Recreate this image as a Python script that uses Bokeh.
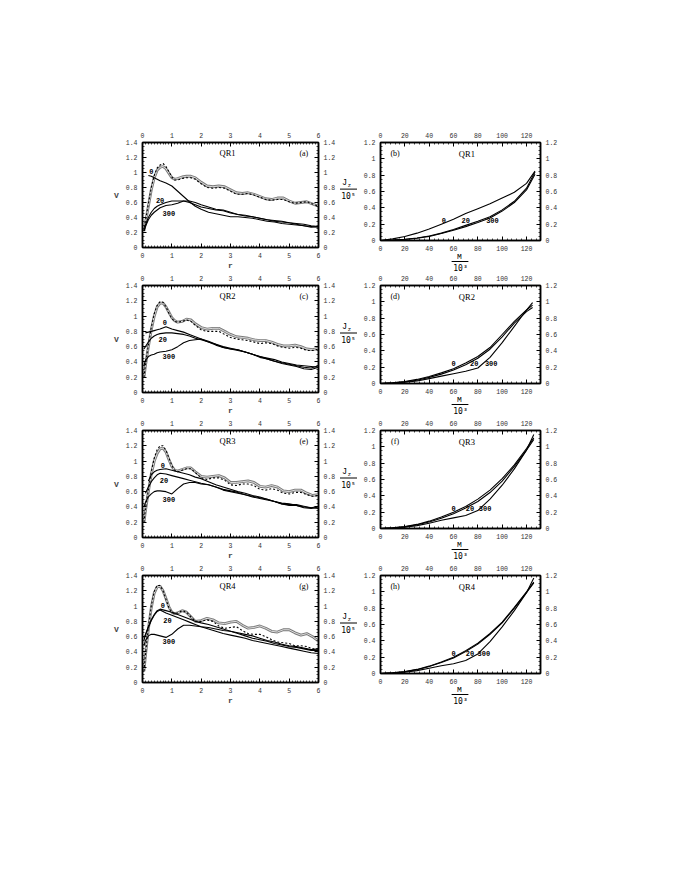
from bokeh.plotting import figure
from bokeh.layouts import column, row
from bokeh.models import LinearAxis, Range1d, FixedTicker, Label
from bokeh.embed import file_html
from bokeh.resources import INLINE

nan = float("nan")

# ---------------- data ----------------
r_ticks = [0, 1, 2, 3, 4, 5, 6]
r_tick_labels = ["0", "1", "2", "3", "4", "5", "6"]
v_ticks = [0, 0.2, 0.4, 0.6, 0.8, 1, 1.2, 1.4]
v_tick_labels = ["0", "0.2", "0.4", "0.6", "0.8", "1", "1.2", "1.4"]
m_ticks = [0, 20, 40, 60, 80, 100, 120]
m_tick_labels = ["0", "20", "40", "60", "80", "100", "120"]
j_ticks = [0, 0.2, 0.4, 0.6, 0.8, 1, 1.2]
j_tick_labels = ["0", "0.2", "0.4", "0.6", "0.8", "1", "1.2"]

panel_names = ["QR1", "QR2", "QR3", "QR4"]
left_tags = ["(a)", "(c)", "(e)", "(g)"]
right_tags = ["(b)", "(d)", "(f)", "(h)"]
series_names = ["0", "20", "300"]

# J_z / 10^5 profiles (grey and dashed), right axis of left panels
r_j = [0.05, 0.1, 0.2, 0.3, 0.4, 0.5, 0.6, 0.7, 0.8, 0.9, 1.0, 1.1, 1.2, 1.35, 1.5,
       1.65, 1.8, 2.0, 2.2, 2.4, 2.6, 2.8, 3.0, 3.2, 3.4, 3.6, 3.8, 4.0, 4.2, 4.4,
       4.6, 4.8, 5.0, 5.2, 5.4, 5.6, 5.8, 6.0]
jg_qr1 = [0.22, 0.33, 0.55, 0.77, 0.93, 1.03, 1.07, 1.08, 1.05, 0.99, 0.93, 0.91, 0.92,
          0.94, 0.95, 0.95, 0.93, 0.87, 0.82, 0.81, 0.82, 0.81, 0.77, 0.73, 0.72, 0.73,
          0.71, 0.68, 0.65, 0.64, 0.66, 0.66, 0.62, 0.59, 0.6, 0.61, 0.58, 0.55]
jd_qr1 = [0.22, 0.35, 0.58, 0.8, 0.96, 1.06, 1.1, 1.12, 1.08, 1.01, 0.94, 0.9, 0.9,
          0.92, 0.93, 0.93, 0.91, 0.85, 0.8, 0.79, 0.8, 0.79, 0.75, 0.71, 0.71, 0.72,
          0.7, 0.67, 0.64, 0.63, 0.64, 0.64, 0.61, 0.59, 0.6, 0.61, 0.58, 0.55]
jg_qr2 = [0.2, 0.35, 0.6, 0.82, 1.0, 1.12, 1.17, 1.17, 1.12, 1.05, 0.98, 0.94, 0.92,
          0.93, 0.96, 0.95, 0.9, 0.85, 0.83, 0.84, 0.84, 0.8, 0.76, 0.73, 0.72, 0.71,
          0.69, 0.68, 0.68, 0.66, 0.63, 0.61, 0.61, 0.62, 0.6, 0.57, 0.56, 0.58]
jd_qr2 = [0.2, 0.36, 0.62, 0.85, 1.03, 1.14, 1.19, 1.18, 1.12, 1.04, 0.97, 0.93, 0.92,
          0.93, 0.95, 0.93, 0.88, 0.82, 0.8, 0.8, 0.8, 0.76, 0.72, 0.7, 0.69, 0.68,
          0.66, 0.64, 0.65, 0.64, 0.61, 0.59, 0.58, 0.59, 0.58, 0.55, 0.55, 0.57]
jg_qr3 = [0.2, 0.35, 0.6, 0.83, 1.0, 1.1, 1.16, 1.17, 1.12, 1.02, 0.93, 0.88, 0.87,
          0.89, 0.91, 0.91, 0.86, 0.8, 0.79, 0.8, 0.81, 0.78, 0.72, 0.72, 0.73, 0.74,
          0.72, 0.67, 0.66, 0.68, 0.66, 0.61, 0.6, 0.62, 0.62, 0.58, 0.55, 0.56]
jd_qr3 = [0.2, 0.37, 0.62, 0.86, 1.04, 1.15, 1.2, 1.2, 1.14, 1.04, 0.94, 0.88, 0.86,
          0.88, 0.9, 0.9, 0.85, 0.78, 0.76, 0.78, 0.78, 0.75, 0.69, 0.68, 0.7, 0.7,
          0.68, 0.63, 0.62, 0.64, 0.62, 0.58, 0.57, 0.59, 0.59, 0.56, 0.54, 0.55]
jg_qr4 = [0.15, 0.35, 0.7, 0.98, 1.17, 1.25, 1.26, 1.2, 1.1, 0.99, 0.92, 0.9, 0.91,
          0.94, 0.92, 0.86, 0.8, 0.81, 0.84, 0.82, 0.78, 0.77, 0.79, 0.8, 0.75, 0.71,
          0.72, 0.74, 0.71, 0.67, 0.66, 0.69, 0.69, 0.65, 0.62, 0.64, 0.6, 0.54]
jd_qr4 = [0.15, 0.36, 0.72, 1.0, 1.19, 1.27, 1.27, 1.2, 1.09, 0.98, 0.92, 0.9, 0.91,
          0.94, 0.92, 0.86, 0.8, 0.8, 0.82, 0.8, 0.74, 0.71, 0.72, 0.73, 0.68, 0.64,
          0.63, 0.63, 0.6, 0.56, 0.53, 0.52, 0.51, 0.48, 0.48, 0.47, 0.44, 0.44]

# V profiles for series 0, 20, 300
r_v = [0.05, 0.1, 0.2, 0.3, 0.4, 0.5, 0.6, 0.8, 1.0, 1.2, 1.4, 1.6, 1.8, 2.0, 2.25,
       2.5, 2.75, 3.0, 3.25, 3.5, 3.75, 4.0, 4.25, 4.5, 4.75, 5.0, 5.25, 5.5, 5.75, 6.0]
v0_qr1 = [nan, nan, 0.96, 0.95, 0.93, 0.91, 0.89, 0.86, 0.82, 0.75, 0.68, 0.61, 0.55,
          0.51, 0.47, 0.45, 0.43, 0.41, 0.41, 0.4, 0.39, 0.37, 0.35, 0.34, 0.32, 0.31,
          0.3, 0.29, 0.28, 0.27]
v20_qr1 = [0.22, 0.3, 0.4, 0.47, 0.52, 0.55, 0.57, 0.6, 0.62, 0.62, 0.62, 0.6, 0.57,
           0.54, 0.52, 0.5, 0.49, 0.46, 0.44, 0.43, 0.41, 0.39, 0.37, 0.35, 0.34, 0.33,
           0.31, 0.29, 0.27, 0.28]
v300_qr1 = [0.22, 0.28, 0.37, 0.43, 0.47, 0.5, 0.53, 0.56, 0.57, 0.59, 0.62, 0.62, 0.6,
            0.57, 0.54, 0.51, 0.5, 0.47, 0.44, 0.42, 0.41, 0.39, 0.37, 0.36, 0.35, 0.33,
            0.32, 0.31, 0.29, 0.28]
v0_qr2 = [nan, 0.78, 0.79, 0.8, 0.81, 0.82, 0.83, 0.86, 0.83, 0.81, 0.79, 0.76, 0.73,
          0.7, 0.66, 0.63, 0.6, 0.58, 0.56, 0.53, 0.5, 0.47, 0.45, 0.43, 0.4, 0.38,
          0.36, 0.35, 0.34, 0.33]
v20_qr2 = [0.57, 0.6, 0.66, 0.71, 0.74, 0.76, 0.77, 0.78, 0.78, 0.77, 0.76, 0.74, 0.71,
           0.69, 0.66, 0.62, 0.59, 0.57, 0.55, 0.53, 0.5, 0.47, 0.44, 0.41, 0.39, 0.37,
           0.35, 0.33, 0.32, 0.35]
v300_qr2 = [0.35, 0.42, 0.47, 0.49, 0.5, 0.52, 0.53, 0.54, 0.56, 0.6, 0.65, 0.68, 0.69,
            0.7, 0.67, 0.63, 0.59, 0.57, 0.56, 0.53, 0.5, 0.46, 0.44, 0.41, 0.38, 0.36,
            0.34, 0.31, 0.3, 0.33]
v0_qr3 = [nan, nan, 0.74, 0.82, 0.86, 0.88, 0.89, 0.9, 0.88, 0.86, 0.84, 0.82, 0.79,
          0.77, 0.73, 0.69, 0.66, 0.63, 0.6, 0.58, 0.55, 0.53, 0.5, 0.47, 0.45, 0.44,
          0.42, 0.4, 0.39, 0.38]
v20_qr3 = [nan, 0.58, 0.66, 0.73, 0.78, 0.82, 0.84, 0.83, 0.81, 0.79, 0.77, 0.75, 0.73,
           0.71, 0.69, 0.66, 0.63, 0.61, 0.59, 0.56, 0.53, 0.51, 0.49, 0.47, 0.44, 0.43,
           0.43, 0.41, 0.39, 0.41]
v300_qr3 = [0.4, 0.46, 0.53, 0.57, 0.6, 0.61, 0.61, 0.6, 0.57, 0.64, 0.7, 0.72, 0.72,
            0.7, 0.69, 0.66, 0.62, 0.6, 0.58, 0.56, 0.54, 0.52, 0.5, 0.47, 0.44, 0.42,
            0.42, 0.39, 0.38, 0.4]
v0_qr4 = [0.58, 0.63, 0.73, 0.82, 0.89, 0.94, 0.96, 0.94, 0.92, 0.89, 0.86, 0.83, 0.8,
          0.78, 0.76, 0.73, 0.7, 0.67, 0.64, 0.61, 0.58, 0.56, 0.54, 0.51, 0.49, 0.47,
          0.46, 0.44, 0.42, 0.42]
v20_qr4 = [0.55, 0.62, 0.72, 0.81, 0.88, 0.93, 0.95, 0.91, 0.88, 0.85, 0.82, 0.79, 0.76,
           0.73, 0.7, 0.67, 0.64, 0.62, 0.6, 0.58, 0.55, 0.53, 0.51, 0.49, 0.47, 0.45,
           0.43, 0.41, 0.39, 0.38]
v300_qr4 = [0.48, 0.55, 0.61, 0.63, 0.63, 0.62, 0.61, 0.59, 0.63, 0.7, 0.75, 0.75, 0.74,
            0.73, 0.72, 0.7, 0.68, 0.67, 0.65, 0.63, 0.61, 0.58, 0.55, 0.53, 0.5, 0.48,
            0.47, 0.45, 0.43, 0.44]

# J_z/10^5 versus M/10^3 (right panels)
m_qr1 = [0, 10, 20, 30, 40, 50, 60, 70, 80, 90, 100, 110, 120, 127]
m_qr2 = [0, 10, 20, 30, 40, 50, 60, 70, 80, 90, 100, 110, 120, 125]
m_qr3 = [0, 10, 20, 30, 40, 50, 60, 70, 80, 90, 100, 110, 120, 126]
m_qr4 = [0, 10, 20, 30, 40, 50, 60, 70, 80, 90, 100, 110, 120, 126]
jm0_qr1 = [0, 0.02, 0.05, 0.09, 0.14, 0.2, 0.26, 0.33, 0.39, 0.45, 0.52, 0.59, 0.7, 0.85]
jm20_qr1 = [0, 0.005, 0.015, 0.03, 0.055, 0.09, 0.135, 0.185, 0.235, 0.29, 0.375, 0.48, 0.64, 0.84]
jm300_qr1 = [0, 0.005, 0.012, 0.027, 0.05, 0.085, 0.125, 0.17, 0.22, 0.275, 0.36, 0.465, 0.62, 0.81]
jm0_qr2 = [0, 0.01, 0.025, 0.05, 0.085, 0.13, 0.18, 0.25, 0.33, 0.44, 0.6, 0.76, 0.9, 0.96]
jm20_qr2 = [0, 0.008, 0.02, 0.04, 0.075, 0.115, 0.165, 0.23, 0.31, 0.42, 0.57, 0.74, 0.88, 0.93]
jm300_qr2 = [0, 0.005, 0.015, 0.03, 0.06, 0.09, 0.12, 0.15, 0.19, 0.32, 0.5, 0.7, 0.9, 0.99]
jm0_qr3 = [0, 0.01, 0.025, 0.05, 0.09, 0.14, 0.2, 0.27, 0.36, 0.47, 0.61, 0.78, 0.98, 1.11]
jm20_qr3 = [0, 0.008, 0.02, 0.045, 0.08, 0.125, 0.18, 0.25, 0.33, 0.44, 0.58, 0.76, 0.96, 1.09]
jm300_qr3 = [0, 0.005, 0.015, 0.035, 0.065, 0.1, 0.13, 0.16, 0.22, 0.36, 0.53, 0.73, 0.96, 1.15]
jm0_qr4 = [0, 0.01, 0.025, 0.05, 0.09, 0.14, 0.2, 0.28, 0.37, 0.49, 0.63, 0.81, 1.0, 1.12]
jm20_qr4 = [0, 0.009, 0.022, 0.047, 0.085, 0.135, 0.19, 0.27, 0.36, 0.48, 0.62, 0.8, 0.99, 1.11]
jm300_qr4 = [0, 0.005, 0.015, 0.035, 0.065, 0.095, 0.12, 0.16, 0.24, 0.39, 0.57, 0.77, 0.99, 1.17]

left_data = [
    (jg_qr1, jd_qr1, [v0_qr1, v20_qr1, v300_qr1]),
    (jg_qr2, jd_qr2, [v0_qr2, v20_qr2, v300_qr2]),
    (jg_qr3, jd_qr3, [v0_qr3, v20_qr3, v300_qr3]),
    (jg_qr4, jd_qr4, [v0_qr4, v20_qr4, v300_qr4]),
]
right_data = [
    (m_qr1, [jm0_qr1, jm20_qr1, jm300_qr1]),
    (m_qr2, [jm0_qr2, jm20_qr2, jm300_qr2]),
    (m_qr3, [jm0_qr3, jm20_qr3, jm300_qr3]),
    (m_qr4, [jm0_qr4, jm20_qr4, jm300_qr4]),
]

# label positions (data coordinates)
left_series_pos = [
    [(0.3, 1.01), (0.6, 0.63), (0.9, 0.46)],
    [(0.76, 0.91), (0.69, 0.69), (0.9, 0.47)],
    [(0.69, 0.94), (0.73, 0.74), (0.9, 0.5)],
    [(0.69, 1.01), (0.85, 0.81), (0.9, 0.53)],
]
right_series_pos = [
    [(52, 0.245), (70, 0.245), (92, 0.245)],
    [(60, 0.24), (77, 0.24), (91, 0.24)],
    [(60, 0.25), (73.5, 0.25), (86, 0.25)],
    [(60, 0.25), (73.5, 0.25), (85, 0.25)],
]

MONO = "Liberation Mono"
SERIF = "Liberation Serif"
TICK_SIZE = "6.5px"


def style_axis(ax, ticks, labels, minor, standoff):
    ax.ticker = FixedTicker(ticks=ticks, minor_ticks=minor)
    ax.major_label_overrides = dict(zip(ticks, labels))
    ax.major_label_text_font = MONO
    ax.major_label_text_font_size = TICK_SIZE
    ax.major_label_text_color = "#333333"
    ax.major_label_standoff = standoff
    ax.axis_line_color = "black"
    ax.axis_line_width = 1.5
    ax.major_tick_in = 4
    ax.major_tick_out = 0
    ax.minor_tick_in = 2
    ax.minor_tick_out = 0
    ax.major_tick_line_color = "black"
    ax.minor_tick_line_color = "black"
    ax.minor_tick_line_width = 0.7


def add_label(p, x, y, text, font=MONO, size="7px", bold=False, align="center"):
    p.add_layout(Label(x=x, y=y, text=text, text_font=font, text_font_size=size,
                       text_font_style="bold" if bold else "normal",
                       text_align=align, text_baseline="middle", text_color="black"))


def blank_fig(w, h, xr, yr, left=0, right=0, top=0, bottom=0):
    f = figure(width=w, height=h, x_range=xr, y_range=yr,
               output_backend="svg", toolbar_location=None,
               x_axis_location=None, y_axis_location=None,
               min_border_left=left, min_border_right=right,
               min_border_top=top, min_border_bottom=bottom)
    f.grid.visible = False
    f.outline_line_color = None
    return f


r_minor = [i / 10 for i in range(61)]
v_minor = [i / 20 for i in range(29)]
m_minor = [i * 4 for i in range(33)]
j_minor = [i / 20 for i in range(25)]

LEFT_W, JZ_W, RIGHT_W = 338, 22, 240
FRAME_LW, FRAME_RW = 176, 162
FRAME_LH, FRAME_RH = 107, 98
RIGHT_BOTTOM = 13
row_heights = [272, 145, 145, 160]
row_tops = [142, 13, 13, 13]

rows = []
for i in range(4):
    H = row_heights[i]
    top = row_tops[i]
    lbottom = H - top - FRAME_LH
    # ---------- left panel ----------
    pl = figure(width=LEFT_W, height=H, x_range=Range1d(0, 6), y_range=Range1d(0, 1.4),
                output_backend="svg", toolbar_location=None,
                x_axis_location=None, y_axis_location=None,
                min_border_left=142, min_border_right=LEFT_W - 142 - FRAME_LW,
                min_border_top=top, min_border_bottom=lbottom)
    pl.grid.visible = False
    pl.outline_line_color = "black"
    pl.outline_line_width = 1.5
    for loc, ticks, labels, minor, so in [("below", r_ticks, r_tick_labels, r_minor, 5),
                                          ("above", r_ticks, r_tick_labels, r_minor, 5),
                                          ("left", v_ticks, v_tick_labels, v_minor, 5),
                                          ("right", v_ticks, v_tick_labels, v_minor, 5)]:
        ax = LinearAxis()
        style_axis(ax, ticks, labels, minor, so)
        if loc == "left":
            ax.axis_label = "V"
            ax.axis_label_orientation = "horizontal"
            ax.axis_label_standoff = 4
        if loc == "below":
            ax.axis_label = "r"
            ax.axis_label_standoff = 0
        ax.axis_label_text_font = MONO
        ax.axis_label_text_font_size = "8px"
        ax.axis_label_text_font_style = "bold"
        pl.add_layout(ax, loc)
    jg, jd, vs = left_data[i]
    pl.line(r_j, jg, line_color="#7a7a7a", line_width=2.8)
    pl.line(r_j, jg, line_color="#dcdcdc", line_width=1.0)
    pl.line(r_j, jd, line_color="black", line_width=1.1, line_dash="2 2")
    for vals in vs:
        pl.line(r_v, vals, line_color="black", line_width=1.1)
    for name, (x, y) in zip(series_names, left_series_pos[i]):
        add_label(pl, x, y, name, size="7px", bold=True)
    add_label(pl, 2.9, 1.26, panel_names[i], font=SERIF, size="8.5px")
    add_label(pl, 5.5, 1.26, left_tags[i], font=SERIF, size="8px")

    # ---------- J_z / 10^5 label strip (frame aligned with left panel) ----------
    pj = blank_fig(JZ_W, H, Range1d(0, JZ_W), Range1d(FRAME_LH, 0),
                   top=top, bottom=lbottom)
    add_label(pj, 6.0, 41, "J", size="8.5px")
    add_label(pj, 11.0, 43.5, "z", size="5.5px")
    pj.segment(x0=[1.5], y0=[47.5], x1=[18.5], y1=[47.5],
               line_color="black", line_width=1)
    add_label(pj, 10, 55, "10\u2075", font="DejaVu Sans Mono", size="8px")

    # ---------- right panel ----------
    RH = top + FRAME_RH + RIGHT_BOTTOM
    pr = figure(width=RIGHT_W, height=RH, x_range=Range1d(0, 131.5), y_range=Range1d(0, 1.2),
                output_backend="svg", toolbar_location=None,
                x_axis_location=None, y_axis_location=None,
                min_border_left=18, min_border_right=RIGHT_W - 18 - FRAME_RW,
                min_border_top=top, min_border_bottom=RIGHT_BOTTOM)
    pr.grid.visible = False
    pr.outline_line_color = "black"
    pr.outline_line_width = 1.5
    for loc, ticks, labels, minor, so in [("below", m_ticks, m_tick_labels, m_minor, 5),
                                          ("above", m_ticks, m_tick_labels, m_minor, 5),
                                          ("left", j_ticks, j_tick_labels, j_minor, 5),
                                          ("right", j_ticks, j_tick_labels, j_minor, 5)]:
        ax = LinearAxis()
        style_axis(ax, ticks, labels, minor, so)
        pr.add_layout(ax, loc)
    ms, js = right_data[i]
    for vals in js:
        pr.line(ms, vals, line_color="black", line_width=1.1)
    for name, (x, y) in zip(series_names, right_series_pos[i]):
        add_label(pr, x, y, name, size="7px", bold=True)
    add_label(pr, 71, 1.06, panel_names[i], font=SERIF, size="8.5px")
    add_label(pr, 12, 1.07, right_tags[i], font=SERIF, size="8px")

    # ---------- M / 10^3 label strip (frame aligned with right panel) ----------
    MH = H - RH
    pm = blank_fig(RIGHT_W, MH, Range1d(0, FRAME_RW), Range1d(MH, 0),
                   left=18, right=RIGHT_W - 18 - FRAME_RW)
    add_label(pm, 80, 3.2, "M", size="8px")
    pm.segment(x0=[72], y0=[8], x1=[89], y1=[8], line_color="black", line_width=1)
    add_label(pm, 81, 15.2, "10\u00b3", font="DejaVu Sans Mono", size="8px")

    rows.append(row(pl, pj, column(pr, pm)))

layout = column(*rows)
open("out.html", "w").write(file_html(layout, INLINE))
